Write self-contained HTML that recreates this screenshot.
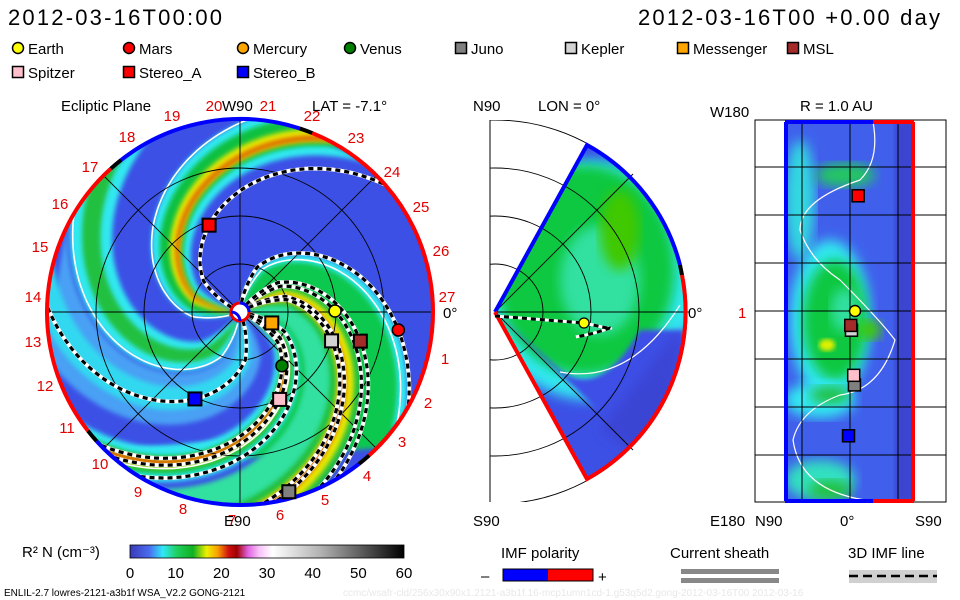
<!DOCTYPE html>
<html><head><meta charset="utf-8"><style>
html,body{margin:0;padding:0;background:#fff;}
svg{display:block;font-family:"Liberation Sans",sans-serif;}
</style></head><body>
<svg id="s" width="960" height="600" viewBox="0 0 960 600" xmlns="http://www.w3.org/2000/svg">
<defs>
  <clipPath id="discClip"><circle cx="240" cy="312" r="193"/></clipPath>
  <clipPath id="wedgeClip"><path d="M495,312 L587,145 A191,191 0 0 1 587,479 Z"/></clipPath>
  <clipPath id="merBox"><rect x="490" y="120" width="200" height="382"/></clipPath>
  <clipPath id="rectClip"><rect x="785" y="122" width="129" height="379"/></clipPath>
  <filter id="blur6"><feGaussianBlur stdDeviation="6"/></filter>
  <filter id="blur3"><feGaussianBlur stdDeviation="2.5"/></filter>
  <linearGradient id="cbar" x1="0" x2="1" y1="0" y2="0">
    <stop offset="0" stop-color="#3a3ab8"/>
    <stop offset="0.07" stop-color="#4a6cf0"/>
    <stop offset="0.12" stop-color="#30e8f8"/>
    <stop offset="0.17" stop-color="#20d060"/>
    <stop offset="0.23" stop-color="#10b020"/>
    <stop offset="0.28" stop-color="#f0f000"/>
    <stop offset="0.32" stop-color="#f8a000"/>
    <stop offset="0.36" stop-color="#d01010"/>
    <stop offset="0.39" stop-color="#a00000"/>
    <stop offset="0.43" stop-color="#e060e0"/>
    <stop offset="0.47" stop-color="#f8c0f8"/>
    <stop offset="0.52" stop-color="#ffffff"/>
    <stop offset="0.7" stop-color="#b0b0b0"/>
    <stop offset="1" stop-color="#000000"/>
  </linearGradient>
</defs>

<text x="8" y="25" font-size="22" textLength="214">2012-03-16T00:00</text>
<text x="638" y="25" font-size="22" textLength="302">2012-03-16T00 +0.00 day</text>
<g id="legend"></g>

<!-- Ecliptic -->
<g>
  <circle cx="240" cy="312" r="193" fill="#3c50e6"/>
  <g id="bands" clip-path="url(#discClip)"></g>
  <g id="grid1" clip-path="url(#discClip)" stroke="#000" stroke-width="0.9" fill="none"></g>
  <g id="flines" clip-path="url(#discClip)"></g>
  <g id="rim"></g>
  <g id="sun">
    <circle cx="240" cy="312" r="9" fill="#fff" stroke="#e00" stroke-width="3"/>
    <path d="M240,303 A9,9 0 0 1 249,312" fill="none" stroke="#00f" stroke-width="3"/>
    <path d="M231,312 A9,9 0 0 1 240,321" fill="none" stroke="#00f" stroke-width="3"/>
  </g>
  <g id="eclMarkers"></g>
  <g id="hours" fill="#e00000" font-size="15"></g>
  <text x="61" y="111" font-size="15">Ecliptic Plane</text>
  <text x="222" y="111" font-size="15">W90</text>
  <text x="312" y="111" font-size="15">LAT = -7.1°</text>
  <text x="224" y="526" font-size="15">E90</text>
  <text x="443" y="318" font-size="15">0°</text>
</g>

<!-- Meridional -->
<g>
  <g clip-path="url(#wedgeClip)">
    <rect x="490" y="120" width="200" height="382" fill="#3c50e6"/>
    <ellipse cx="590" cy="280" rx="110" ry="120" fill="#30e8f0" filter="url(#blur6)"/>
    <ellipse cx="585" cy="270" rx="90" ry="105" fill="#10c840" filter="url(#blur6)"/>
    <ellipse cx="600" cy="280" rx="40" ry="55" fill="#30e0a0" filter="url(#blur6)"/>
    <ellipse cx="620" cy="230" rx="20" ry="40" fill="#40c800" filter="url(#blur6)"/>
    <path d="M495,312 L650,460 A191,191 0 0 0 683,330 L640,330 Q600,400 560,370 Z" fill="#3c50e6" filter="url(#blur3)"/>
    <path d="M600,430 L660,470 L683,330 L670,340 Z" fill="#3a44d4" filter="url(#blur6)"/>
    <path d="M560,372 Q630,385 680,305" fill="none" stroke="#fff" stroke-width="1.2"/>
  </g>
  <g clip-path="url(#merBox)" stroke="#000" stroke-width="0.9" fill="none" id="grid2"></g>
  <line x1="490" y1="120" x2="490" y2="502" stroke="#000" stroke-width="1"/>
  <path d="M495,312 L587,145 A191,191 0 0 1 680,265" fill="none" stroke="#0000ff" stroke-width="4"/>
  <path d="M680,265 L682,275" fill="none" stroke="#000" stroke-width="4"/>
  <path d="M682,275 A191,191 0 0 1 587,479 L495,312" fill="none" stroke="#ff0000" stroke-width="4"/>
  <path d="M495,316 L584,323 Q615,330 610,328 Q590,335 575,337" fill="none" stroke="#fff" stroke-width="3"/>
  <path d="M495,316 L584,323 Q615,330 610,328 Q590,335 575,337" fill="none" stroke="#000" stroke-width="3" stroke-dasharray="5,4"/>
  <circle cx="584" cy="323" r="5" fill="#ffff00" stroke="#000" stroke-width="1.2"/>
  <text x="473" y="111" font-size="15">N90</text>
  <text x="538" y="111" font-size="15">LON = 0°</text>
  <text x="688" y="318" font-size="15">0°</text>
  <text x="473" y="526" font-size="15">S90</text>
</g>

<!-- Radial slice -->
<g>
  <g clip-path="url(#rectClip)">
    <rect x="785" y="122" width="129" height="379" fill="#4060ec"/>
    <ellipse cx="830" cy="320" rx="40" ry="80" fill="#30e8f0" filter="url(#blur6)"/>
    <ellipse cx="835" cy="320" rx="32" ry="60" fill="#10c840" filter="url(#blur6)"/>
    <ellipse cx="845" cy="310" rx="14" ry="22" fill="#30e0a0" filter="url(#blur6)"/>
    <ellipse cx="827" cy="345" rx="8" ry="6" fill="#e0f000" filter="url(#blur3)"/>
    <ellipse cx="870" cy="330" rx="12" ry="10" fill="#40c800" filter="url(#blur6)"/>
    <ellipse cx="800" cy="200" rx="15" ry="60" fill="#30d8e0" filter="url(#blur6)"/>
    <ellipse cx="845" cy="175" rx="30" ry="12" fill="#20c860" filter="url(#blur6)"/>
    <ellipse cx="820" cy="400" rx="35" ry="18" fill="#30e8f0" filter="url(#blur6)"/>
    <ellipse cx="830" cy="395" rx="20" ry="9" fill="#20c040" filter="url(#blur6)"/>
    <ellipse cx="820" cy="480" rx="35" ry="20" fill="#30e0c0" filter="url(#blur6)"/>
    <ellipse cx="830" cy="490" rx="22" ry="10" fill="#20c040" filter="url(#blur6)"/>
    <rect x="895" y="122" width="19" height="379" fill="#3a44d0" filter="url(#blur3)"/>
    <path d="M873,122 Q880,160 860,180 Q800,200 800,230 Q810,260 840,280 Q880,320 895,340 Q880,390 840,395 Q800,410 793,440 Q800,490 865,500" fill="none" stroke="#fff" stroke-width="1.2"/>
  </g>
  <g id="grid3" stroke="#000" stroke-width="1" fill="none"></g>
  <line x1="785" y1="122" x2="873" y2="122" stroke="#00f" stroke-width="4"/>
  <line x1="873" y1="122" x2="914" y2="122" stroke="#f00" stroke-width="4"/>
  <line x1="785" y1="501" x2="873" y2="501" stroke="#00f" stroke-width="4"/>
  <line x1="873" y1="501" x2="914" y2="501" stroke="#f00" stroke-width="4"/>
  <line x1="786" y1="122" x2="786" y2="501" stroke="#00f" stroke-width="4"/>
  <line x1="913" y1="122" x2="913" y2="501" stroke="#f00" stroke-width="4"/>
  <g id="radMarkers"></g>
  <text x="710" y="117" font-size="15">W180</text>
  <text x="800" y="111" font-size="15">R = 1.0 AU</text>
  <text x="738" y="318" font-size="15" fill="#e00000">1</text>
  <text x="710" y="526" font-size="15">E180</text>
  <text x="755" y="526" font-size="15">N90</text>
  <text x="840" y="526" font-size="15">0°</text>
  <text x="915" y="526" font-size="15">S90</text>
</g>

<!-- Bottom legends -->
<g>
  <text x="22" y="557" font-size="15">R² N (cm⁻³)</text>
  <rect x="130" y="545" width="274" height="13" fill="url(#cbar)" stroke="#000" stroke-width="0.8"/>
  <g id="cbTicks" font-size="15" text-anchor="middle"></g>
</g>
<g>
  <text x="501" y="558" font-size="15">IMF polarity</text>
  <text x="481" y="581" font-size="15">–</text>
  <rect x="503" y="569" width="45" height="12" fill="#0000ff"/>
  <rect x="548" y="569" width="45" height="12" fill="#ff0000"/>
  <rect x="503" y="569" width="90" height="12" fill="none" stroke="#000"/>
  <text x="598" y="582" font-size="15">+</text>
</g>
<g>
  <text x="670" y="558" font-size="15">Current sheath</text>
  <rect x="681" y="569" width="98" height="5" fill="#888"/>
  <rect x="681" y="578" width="98" height="5" fill="#888"/>
</g>
<g>
  <text x="848" y="558" font-size="15">3D IMF line</text>
  <rect x="849" y="570" width="88" height="13" fill="#d0d0d0"/>
  <line x1="849" y1="576" x2="937" y2="576" stroke="#000" stroke-width="2.5" stroke-dasharray="9,5"/>
</g>
<text x="4" y="596" font-size="10">ENLIL-2.7 lowres-2121-a3b1f WSA_V2.2 GONG-2121</text>
<text x="343" y="596" font-size="10" fill="#e8e8e8">ccmc/wsafr-cld/256x30x90x1.2121-a3b1f.16-mcp1umn1cd-1.g53q5d2.gong-2012-03-16T00   2012-03-16</text>
</svg>
<script>
const NS="http://www.w3.org/2000/svg";
// ---- data ----
const craftNames=["Earth","Mars","Mercury","Venus","Juno","Kepler","Messenger","MSL","Spitzer","Stereo_A","Stereo_B"];
const craftShapes=["circle","circle","circle","circle","square","square","square","square","square","square","square"];
const craftColors=["#ffff00","#ff0000","#ffa500","#008000","#808080","#d3d3d3","#ffa500","#a52a2a","#ffc0cb","#ff0000","#0000ff"];
const craftRadiusAU=[0.99,1.66,0.35,0.71,1.94,1.0,0.35,1.29,1.0,0.96,1.02];
const craftAngleDeg=[-0.6,6.5,19,52,74.8,17.5,19,13.6,65.6,-109.6,117.4];
const craftRadialLat=[0,0,0,0,0.3,0.1,0,0.05,0.25,0.55,-0.1];
const craftRadialLon=[0,0,0,0,-0.77,-0.2,0,-0.15,-0.67,1.2,-1.3];
const radialShown=[0,4,5,7,8,9,10];
const hourLabels=["19","20","21","22","23","24","25","26","27","1","2","3","4","5","6","7","8","9","10","11","12","13","14","15","16","17","18"];
const hourLabelX=[172,214,268,312,356,392,421,441,447,445,428,402,367,325,280,232,183,138,100,67,45,33,33,40,60,90,127];
const hourLabelY=[116,106,106,116,138,172,207,251,297,359,403,442,476,500,515,520,509,492,464,428,386,342,297,247,204,167,137];
const cbTickValues=[0,10,20,30,40,50,60];
// ---- axis functions ----
const CX=240,CY=312,PXAU=96;
function wind(r){return r>=0.5?65*r:32.5-30*(0.5-r);} // spiral winding (deg) vs radius
function eclXY(rAU,deg){const a=deg*Math.PI/180;return [CX+rAU*PXAU*Math.cos(a),CY+rAU*PXAU*Math.sin(a)];}
function cbX(v){return 130+v/60*274;}
function radX(lat){return 850+lat*48;}
function radY(lon){return 311-lon*96;}
function mk(tag,attrs,parent){const e=document.createElementNS(NS,tag);for(const k in attrs)e.setAttribute(k,attrs[k]);parent.appendChild(e);return e;}
// legend
const leg=document.getElementById('legend');
const legX=[18,129,243,350,461,571,683,793,18,129,243],legY=[48,48,48,48,48,48,48,48,72,72,72];
craftNames.forEach((n,i)=>{
  const g=mk('g',{},leg);
  
  
  if(craftShapes[i]==="circle")mk('circle',{cx:legX[i],cy:legY[i],r:5.5,fill:craftColors[i],stroke:'#000','stroke-width':1.5},g);
  else mk('rect',{x:legX[i]-5.5,y:legY[i]-5.5,width:11,height:11,fill:craftColors[i],stroke:'#000','stroke-width':1.5},g);
  const t=mk('text',{x:legX[i]+10,y:legY[i]+6,'font-size':15},g);t.textContent=n;
});
// spiral band polygons
function bandPath(phi0,w){let pts=[];const r0=0.1,r1=2.1;
  for(let r=r0;r<=r1;r+=0.03)pts.push(eclXY(r,phi0+wind(r)-w/2));
  for(let r=r1;r>=r0;r-=0.03)pts.push(eclXY(r,phi0+wind(r)+w/2));
  return 'M'+pts.map(p=>p[0].toFixed(1)+','+p[1].toFixed(1)).join('L')+'Z';}
const bands=document.getElementById('bands');
const bandDefs=[
 [54,44,'#4aa0f4'],[54,20,'#30d8f0'],
 [-50,100,'#30e8f0'],[-50,85,'#10c850'],[-30,26,'#30e0a0'],
 [160,36,'#30e8f0'],[160,22,'#10c040'],[163,10,'#e8e800'],[165,4,'#e06000'],
 [94,32,'#30e8f0'],[94,14,'#20c040'],
 [1,26,'#30e8f0'],[1,14,'#10c040'],[2,7,'#f0e000'],[3,3,'#d03000'],
 [-52,26,'#20c040'],[-52,14,'#e8e800'],[-50,6,'#e07010']];
bandDefs.forEach((b,i)=>{const p=mk('path',{d:bandPath(b[0],b[1]),fill:b[2],filter:'url(#blur3)'},bands);
  
  });
// white sheath lines
[142,80,-95,-2].forEach(phi0=>{let d='';for(let r=0.12;r<=2.1;r+=0.03){const p=eclXY(r,phi0+wind(r));d+=(d?'L':'M')+p[0].toFixed(1)+','+p[1].toFixed(1);}
  const e=mk('path',{d:d,fill:'none',stroke:'#fff','stroke-width':1.6},bands);
  
  });
// grid
const g1=document.getElementById('grid1');
[48,96,144,192].forEach(r=>mk('circle',{cx:CX,cy:CY,r:r},g1));
[0,45,90,135].forEach(a=>{const p=eclXY(2.1,a),q=eclXY(2.1,a+180);mk('line',{x1:p[0],y1:p[1],x2:q[0],y2:q[1]},g1);});
// field lines
const fl=document.getElementById('flines');
[0,1,2,3,4,5,7,8,9,10].forEach(i=>{const phi0=craftAngleDeg[i]-wind(craftRadiusAU[i]);let d='';
  for(let r=0.1;r<=2.1;r+=0.02){const p=eclXY(r,phi0+wind(r));d+=(d?'L':'M')+p[0].toFixed(1)+','+p[1].toFixed(1);}
  const w=mk('path',{d:d,fill:'none',stroke:'#fff','stroke-width':4},fl);
  
  
  mk('path',{d:d,fill:'none',stroke:'#000','stroke-width':3.2,'stroke-dasharray':'5,4'},fl);});
// rim
const rim=document.getElementById('rim');
function arc(a0,a1,col){const p=eclXY(193/96,a0),q=eclXY(193/96,a1);const large=((a1-a0+360)%360)>180?1:0;
  const e=mk('path',{d:`M${p[0]},${p[1]} A193,193 0 ${large} 1 ${q[0]},${q[1]}`,fill:'none',stroke:col,'stroke-width':4},rim);
  
  }
arc(-68,48,'#ff0000');arc(48,52,'#000');arc(52,138,'#0000ff');arc(138,142,'#000');arc(142,228,'#ff0000');arc(228,232,'#000');arc(232,288,'#0000ff');arc(288,292,'#000');
// markers
const em=document.getElementById('eclMarkers');
craftNames.forEach((n,i)=>{const p=eclXY(craftRadiusAU[i],craftAngleDeg[i]);let e;
  if(craftShapes[i]==="circle")e=mk('circle',{cx:p[0],cy:p[1],r:6,fill:craftColors[i],stroke:'#000','stroke-width':1.5},em);
  else e=mk('rect',{x:p[0]-6.5,y:p[1]-6.5,width:13,height:13,fill:craftColors[i],stroke:'#000','stroke-width':2},em);
  
  });
// hour labels
const hg=document.getElementById('hours');
hourLabels.forEach((h,i)=>{const t=mk('text',{x:hourLabelX[i],y:hourLabelY[i]+5,'text-anchor':'middle'},hg);t.textContent=h;
  
  });
// meridional grid
const g2=document.getElementById('grid2');
[48,96,144,192].forEach(r=>mk('circle',{cx:495,cy:312,r:r},g2));
mk('line',{x1:495,y1:312,x2:690,y2:312},g2);
mk('line',{x1:495,y1:312,x2:633,y2:174},g2);
mk('line',{x1:495,y1:312,x2:633,y2:450},g2);
// radial grid
const g3=document.getElementById('grid3');
mk('rect',{x:755,y:120,width:191,height:382},g3);
[802,850,898].forEach(x=>mk('line',{x1:x,y1:120,x2:x,y2:502},g3));
[167,215,263,311,359,407,455].forEach(y=>mk('line',{x1:755,y1:y,x2:946,y2:y},g3));
const rm=document.getElementById('radMarkers');
radialShown.forEach(i=>{const x=radX(craftRadialLat[i]*0.1),y=radY(craftRadialLon[i]);let e;
  if(craftShapes[i]==="circle")e=mk('circle',{cx:855,cy:y,r:5.5,fill:craftColors[i],stroke:'#000','stroke-width':1.5},rm);
  else e=mk('rect',{x:x-6+craftRadialLat[i]*10,y:y-6,width:12,height:12,fill:craftColors[i],stroke:'#000','stroke-width':1.5},rm);
  
  });
// colorbar ticks
const cbt=document.getElementById('cbTicks');
cbTickValues.forEach(v=>{const t=mk('text',{x:cbX(v),y:578},cbt);t.textContent=v;
  
  });
</script>
</body></html>
